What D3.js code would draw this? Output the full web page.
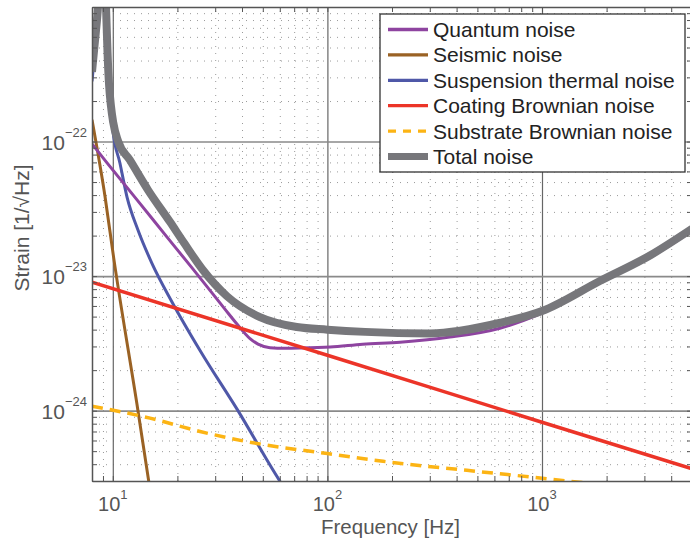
<!DOCTYPE html>
<html><head><meta charset="utf-8">
<script src="https://cdn.jsdelivr.net/npm/d3@7"></script>
<style>
body{margin:0;background:#fff}
svg{display:block;font-family:"Liberation Sans",Arial,Helvetica,sans-serif}
</style>
</head><body>
<svg id="c" width="690" height="538"></svg>
<script>
// ---------- data ----------
const xMajorTicks = [10, 100, 1000];
const xTickExponents = ["1", "2", "3"];
const yMajorTicks = [1e-24, 1e-23, 1e-22];
const yTickExponents = ["\u221224", "\u221223", "\u221222"];

const seriesNames = ["Quantum noise", "Seismic noise", "Suspension thermal noise",
  "Coating Brownian noise", "Substrate Brownian noise", "Total noise"];

const quantumFreq   = [8, 9.4, 13, 17.9, 23.4, 29.3, 33.3, 37.9, 43.6, 47.5, 54, 63.4, 74.5, 103, 146, 218, 372, 637, 1000, 1860, 3200, 5000];
const quantumStrain = [9.6e-23, 6.95e-23, 3.67e-23, 1.95e-23, 1.15e-23, 7.35e-24, 5.68e-24, 4.4e-24, 3.43e-24, 3.12e-24, 2.94e-24, 2.91e-24, 2.92e-24, 2.97e-24, 3.12e-24, 3.23e-24, 3.52e-24, 4.1e-24, 5.3e-24, 8.9e-24, 1.38e-23, 2.17e-23];

const seismicFreq   = [8, 9.2, 10.1, 13.1, 14.9];
const seismicStrain = [1.45e-22, 3.9e-23, 1.36e-23, 1.0e-24, 2.6e-25];

const suspensionFreq   = [8, 8.26, 8.53, 9.0, 9.3, 9.45, 9.6, 9.81, 10.0, 10.8, 11.65, 13.1, 15.2, 18.9, 25.5, 38.3, 60, 67];
const suspensionStrain = [2.8e-22, 4.8e-22, 8.3e-22, 5e-21, 9.8e-22, 5.2e-22, 2.86e-22, 1.71e-22, 1.22e-22, 6.9e-23, 3.87e-23, 2.2e-23, 1.25e-23, 6.4e-24, 2.8e-24, 1.0e-24, 3.0e-25, 2.3e-25];

const coatingFreq   = [8, 100, 1000, 5000];
const coatingStrain = [9.0e-24, 2.58e-24, 8.2e-25, 3.7e-25];

const substrateFreq   = [8, 14.9, 25.5, 47, 100, 182, 447, 908, 1320, 2300];
const substrateStrain = [1.08e-24, 8.8e-25, 7.0e-25, 5.7e-25, 4.8e-25, 4.2e-25, 3.6e-25, 3.2e-25, 3.0e-25, 2.75e-25];

const totalFreq   = [8, 8.25, 8.5, 9.0, 9.3, 9.45, 9.6, 9.8, 10.05, 10.6, 12, 14.6, 18.5, 21.5, 26.3, 34, 48.5, 72, 100, 150, 300, 640, 1000, 1860, 3200, 5000];
const totalStrain = [3.3e-22, 5.5e-22, 9.2e-22, 5e-21, 1.0e-21, 4.6e-22, 2.7e-22, 1.85e-22, 1.38e-22, 1.0e-22, 7.3e-23, 4.36e-23, 2.52e-23, 1.76e-23, 1.11e-23, 7.1e-24, 4.96e-24, 4.18e-24, 4.0e-24, 3.85e-24, 3.75e-24, 4.5e-24, 5.5e-24, 9.2e-24, 1.43e-23, 2.25e-23];

// ---------- layout ----------
const L = 92, R = 692, T = 7, B = 481;
const svg = d3.select("#c");
const x = d3.scaleLog().domain([8, 5000]).range([L, R]);
const y = d3.scaleLog().domain([3e-25, 1e-21]).range([B, T]);

const isMajor = v => Math.abs(Math.log10(v) - Math.round(Math.log10(v))) < 1e-9;
const xMinor = x.ticks().filter(v => !isMajor(v));
const yMinor = y.ticks().filter(v => !isMajor(v));

// minor grid (dotted)
svg.append("g").attr("transform", `translate(0,${B})`)
  .call(d3.axisBottom(x).tickValues(xMinor).tickSize(-(B - T)).tickFormat(""))
  .call(g => g.select(".domain").remove())
  .call(g => g.selectAll("line").attr("stroke", "#9a9a9a").attr("stroke-width", 1).attr("stroke-dasharray", "1,6"));
svg.append("g").attr("transform", `translate(${L},0)`)
  .call(d3.axisLeft(y).tickValues(yMinor).tickSize(-(R - L)).tickFormat(""))
  .call(g => g.select(".domain").remove())
  .call(g => g.selectAll("line").attr("stroke", "#9a9a9a").attr("stroke-width", 1).attr("stroke-dasharray", "1,6"));

// major grid (solid)
svg.append("g").attr("transform", `translate(0,${B})`)
  .call(d3.axisBottom(x).tickValues(xMajorTicks).tickSize(-(B - T)).tickFormat(""))
  .call(g => g.select(".domain").remove())
  .call(g => g.selectAll("line").attr("stroke", "#666").attr("stroke-width", 1.2));
svg.append("g").attr("transform", `translate(${L},0)`)
  .call(d3.axisLeft(y).tickValues(yMajorTicks).tickSize(-(R - L)).tickFormat(""))
  .call(g => g.select(".domain").remove())
  .call(g => g.selectAll("line").attr("stroke", "#8a8a8a").attr("stroke-width", 1.6));

// curves
svg.append("defs").append("clipPath").attr("id", "plot")
  .append("rect").attr("x", L).attr("y", T).attr("width", R - L).attr("height", B - T);
const gC = svg.append("g").attr("clip-path", "url(#plot)");
const line = d3.line().x(d => x(d[0])).y(d => y(d[1])).curve(d3.curveMonotoneX);
const zip = (a, b) => a.map((v, i) => [v, b[i]]);

const styles = {
  q: {c: "#8E44A0", w: 3},
  s: {c: "#9A6224", w: 3},
  t: {c: "#4F58A8", w: 3},
  c: {c: "#EC3428", w: 3.5},
  b: {c: "#FCB414", w: 3.5, dash: "11,7"},
  n: {c: "#77777B", w: 8}
};
const curves = [
  [zip(seismicFreq, seismicStrain), styles.s],
  [zip(suspensionFreq, suspensionStrain), styles.t],
  [zip(quantumFreq, quantumStrain), styles.q],
  [zip(coatingFreq, coatingStrain), styles.c],
  [zip(substrateFreq, substrateStrain), styles.b],
  [zip(totalFreq, totalStrain), styles.n]
];
curves.forEach(([d, s]) => {
  gC.append("path").attr("d", line(d)).attr("fill", "none")
    .attr("stroke", s.c).attr("stroke-width", s.w)
    .attr("stroke-dasharray", s.dash || null).attr("stroke-linejoin", "round");
});

// axes frame with inward ticks
const axC = "#555";
function styleAxis(g) {
  g.select(".domain").attr("stroke", axC).attr("stroke-width", 1.5);
  g.selectAll("line").attr("stroke", axC).attr("stroke-width", 1);
}
const allX = x.ticks();
const allY = y.ticks();
svg.append("g").attr("transform", `translate(0,${B})`)
  .call(d3.axisBottom(x).tickValues(allX).tickSizeOuter(0).tickSizeInner(-5).tickFormat(""))
  .call(styleAxis);
svg.append("g").attr("transform", `translate(0,${T})`)
  .call(d3.axisTop(x).tickValues(allX).tickSizeOuter(0).tickSizeInner(-5).tickFormat(""))
  .call(styleAxis);
svg.append("g").attr("transform", `translate(${L},0)`)
  .call(d3.axisLeft(y).tickValues(allY).tickSizeOuter(0).tickSizeInner(-5).tickFormat(""))
  .call(styleAxis);
svg.append("g").attr("transform", `translate(${R},0)`)
  .call(d3.axisRight(y).tickValues(allY).tickSizeOuter(0).tickSizeInner(-5).tickFormat(""))
  .call(styleAxis);

// tick labels
const lblC = "#555";
xMajorTicks.forEach((v, i) => {
  const t = svg.append("text").attr("x", x(v)).attr("y", B + 30)
    .attr("text-anchor", "middle").attr("fill", lblC).attr("font-size", 20);
  t.append("tspan").text("10");
  t.append("tspan").attr("dy", -12).attr("font-size", 13).text(xTickExponents[i]);
});
yMajorTicks.forEach((v, i) => {
  const t = svg.append("text").attr("x", L - 5).attr("y", y(v) + 8)
    .attr("text-anchor", "end").attr("fill", lblC).attr("font-size", 21);
  t.append("tspan").text("10");
  t.append("tspan").attr("dy", -13).attr("font-size", 13).text(yTickExponents[i]);
});

// axis titles
svg.append("text").attr("x", 390.5).attr("y", 534)
  .attr("text-anchor", "middle").attr("fill", lblC).attr("font-size", 20.5)
  .text("Frequency [Hz]");
svg.append("text").attr("transform", "translate(29,228) rotate(-90)")
  .attr("text-anchor", "middle").attr("fill", lblC).attr("font-size", 21)
  .text("Strain [1/\u221AHz]");

// legend
const lg = svg.append("g");
lg.append("rect").attr("x", 380).attr("y", 14).attr("width", 305).attr("height", 158)
  .attr("fill", "#fff").attr("stroke", "#333").attr("stroke-width", 1.3);
const legStyles = [styles.q, styles.s, styles.t, styles.c, styles.b, styles.n];
seriesNames.forEach((name, i) => {
  const yy = 29.5 + i * 25.4;
  const s = legStyles[i];
  lg.append("line").attr("x1", 388).attr("x2", 428).attr("y1", yy).attr("y2", yy)
    .attr("stroke", s.c).attr("stroke-width", s.w === 8 ? 7 : 3.3)
    .attr("stroke-dasharray", s.dash ? "8,7" : null);
  lg.append("text").attr("x", 433).attr("y", yy + 7.5).attr("fill", "#222")
    .attr("font-size", 21).text(name);
});
</script>
</body></html>
